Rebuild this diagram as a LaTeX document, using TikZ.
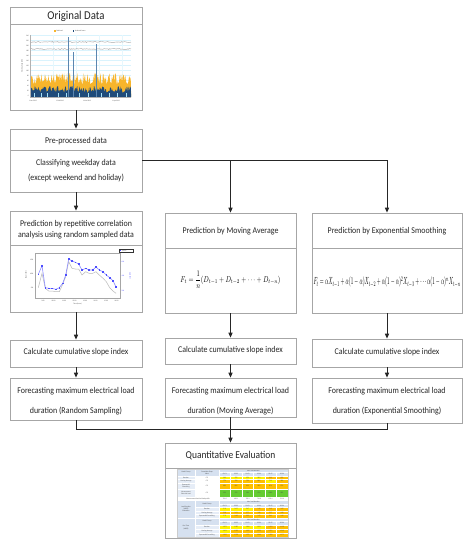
\documentclass[tikz,border=0pt]{standalone}
\usepackage{fontspec}
\setmainfont{Carlito}[FakeStretch=0.9]
\usepackage{graphicx}
\usetikzlibrary{arrows.meta,plotmarks}
\definecolor{boxgray}{HTML}{A6A6A6}
\definecolor{ylw}{HTML}{F7B52C}
\definecolor{navyb}{HTML}{1F4B7A}
\definecolor{spk}{HTML}{5B86B0}
\definecolor{tY}{HTML}{FFF200}
\definecolor{tO}{HTML}{FFC000}
\definecolor{tG}{HTML}{66CC33}
\definecolor{tW}{HTML}{FFFFFF}
\definecolor{tH}{HTML}{D6E1F0}
\definecolor{tL}{HTML}{E6EDF7}
\newcommand\tcell[6]{\filldraw[fill=#5,draw=white,line width=0.25pt] (#1,#2) rectangle (#3,#4); \node[tny,align=center] at ({(#1+#3)/2},{(#2+#4)/2}) {#6};}
\newcommand\tblrow[3]{\foreach \c/\t [count=\k from 0] in {#3} {\pgfmathsetmacro\xa{219+\k*11.45}\filldraw[fill=t\c,draw=white,line width=0.25pt] (\xa,#1) rectangle ({\xa+11.45},#2); \node[tny] at ({\xa+5.725},{(#1+#2)/2}) {\t};}}
\newcommand\tblhead[2]{\foreach \lab [count=\k from 0] in {09-01,09-02,09-03,09-04,09-05,09-06} {\pgfmathsetmacro\xa{219+\k*11.45}\filldraw[fill=tH,draw=white,line width=0.25pt] (\xa,#1) rectangle ({\xa+11.45},#2); \node[tny] at ({\xa+5.725},{(#1+#2)/2}) {\lab};}}
\begin{document}
\begin{tikzpicture}[x=1pt,y=-1pt,
  box/.style={draw=boxgray, line width=0.8pt, fill=white, inner sep=0pt},
  txt/.style={font=\fontsize{8.8}{11}\selectfont, inner sep=0pt, align=center, text=black!85},
  tny/.style={font=\fontsize{1.8}{2.1}\selectfont, inner sep=0pt, text=black!70},
  arr/.style={-{Triangle[length=5pt,width=4.2pt]}, line width=0.9pt, draw=black!85},
  conn/.style={line width=0.9pt, draw=black!85},
  divl/.style={draw=boxgray, line width=0.8pt}]
\useasboundingbox (0,0) rectangle (470,550);
\fill[white] (0,0) rectangle (470,550);

% ---------- boxes ----------
\node[box, minimum width=132pt, minimum height=103pt] (orig) at (76,58.5) {};
\node[box, minimum width=132pt, minimum height=63pt] (pre) at (76,160.5) {};
\node[box, minimum width=132pt, minimum height=101pt] (c1) at (76,261.5) {};
\node[box, minimum width=131pt, minimum height=100pt] (c2) at (230.5,263) {};
\node[box, minimum width=150pt, minimum height=100pt] (c3) at (387,263) {};
\node[box, minimum width=132pt, minimum height=27pt] (k1) at (76,353.5) {};
\node[box, minimum width=131pt, minimum height=26pt] (k2) at (230.5,351) {};
\node[box, minimum width=150pt, minimum height=28pt] (k3) at (387,353) {};
\node[box, minimum width=132pt, minimum height=42pt] (f1) at (76,399) {};
\node[box, minimum width=131pt, minimum height=39pt] (f2) at (230.5,397.5) {};
\node[box, minimum width=150pt, minimum height=45pt] (f3) at (387,400.5) {};
\node[box, minimum width=131pt, minimum height=95pt] (q) at (230.5,490.5) {};

% dividers
\draw[divl] (10,24) -- (142,24);
\draw[divl] (10,150) -- (142,150);
\draw[divl] (10,245) -- (142,245);
\draw[divl] (165,248) -- (296,248);
\draw[divl] (312,248) -- (462,248);
\draw[divl] (165,468) -- (296,468);

% ---------- texts ----------
\node[txt, font=\fontsize{12}{14}\selectfont] (origt) at (76,16) {Original Data};
\node[txt] (pret) at (76,141) {Pre-processed data};
\node[txt, font=\fontsize{8.8}{15}\selectfont] (pre2) at (76,170.5) {Classifying weekday data\\(except weekend and holiday)};
\node[txt] (c1t) at (76,229.5) {Prediction by repetitive correlation\\analysis using random sampled data};
\node[txt] (c2t) at (230.5,231) {Prediction by Moving Average};
\node[txt] (c3t) at (387,231) {Prediction by Exponential Smoothing};
\node[inner sep=0pt] (c2f) at (230.5,280) {\resizebox*{100pt}{17pt}{$\displaystyle F_t=\frac{1}{n}(D_{t-1}+D_{t-2}+\cdots+D_{t-n})$}};
\node[inner sep=0pt] (c3f) at (387,282) {\resizebox*{147pt}{11pt}{$F_t=\alpha X_{t-1}+\alpha(1-\alpha)X_{t-2}+\alpha(1-\alpha)^2X_{t-3}+\cdots\alpha(1-\alpha)^nX_{t-n}$}};
\node[txt] (k1t) at (76,352) {Calculate cumulative slope index};
\node[txt] (k2t) at (230.5,350) {Calculate cumulative slope index};
\node[txt] (k3t) at (387,352) {Calculate cumulative slope index};
\node[txt, font=\fontsize{8.8}{20}\selectfont] (f1t) at (76,401) {Forecasting maximum electrical load\\duration (Random Sampling)};
\node[txt, font=\fontsize{8.8}{20}\selectfont] (f2t) at (230.5,401) {Forecasting maximum electrical load\\duration (Moving Average)};
\node[txt, font=\fontsize{8.8}{20}\selectfont] (f3t) at (387,401) {Forecasting maximum electrical load\\duration (Exponential Smoothing)};
\node[txt, font=\fontsize{10.5}{12}\selectfont] (qt) at (230.5,456) {Quantitative Evaluation};

% ---------- connectors ----------
\draw[arr] (orig) -- (pre);
\draw[arr] (pre) -- (c1);
\coordinate (j1) at (c2.north |- pre.east);
\draw[arr] (pre.east) -| (c3.north);
\draw[arr] (j1) -- (c2.north);
\draw[arr] (c1) -- (k1);
\draw[arr] (c2) -- (k2);
\draw[arr] (c3) -- (k3);
\draw[arr] (k1) -- (f1);
\draw[arr] (k2) -- (f2);
\draw[arr] (k3) -- (f3);
\coordinate (m) at (230.5,429);
\draw[conn] (f1.south) |- (m);
\draw[conn] (f3.south) |- (m);
\draw[arr] (f2.south) -- (q.north);

% ---------- original data chart ----------
\pgfmathsetseed{11}
\foreach \yy in {35,40,...,95} \draw[cyan!15, line width=0.3pt] (30,\yy) -- (131,\yy);
\foreach \xx in {30,53,76,99,122} \draw[cyan!10, line width=0.3pt] (\xx,35) -- (\xx,97);
\fill[ylw] (30,97) -- plot[domain=30:131, samples=170] (\x,{79+6*rand}) -- (131,97) -- cycle;
\fill[navyb] (30,97) -- plot[domain=30:131, samples=170] (\x,{89.5+3.5*rand}) -- (131,97) -- cycle;
\foreach \xx in {34,41,47.5,58,66,79,88,101,109,117,126} \draw[cyan!35, line width=0.3pt] (\xx,93) -- (\xx,97);
\draw[gray!70, line width=0.45pt] plot[domain=30:131, samples=110] (\x,{42+0.5*rand});
\draw[gray!70, line width=0.45pt] plot[domain=30:131, samples=110] (\x,{49+0.5*rand});
\draw[spk, line width=0.7pt] (68,37) -- (68,97);
\draw[spk, line width=0.7pt] (73,52) -- (73,97);
\draw[spk, line width=0.7pt] (96,44) -- (96,97);
\draw[gray!60, line width=0.3pt] (30,35) -- (30,97) -- (131,97);
\foreach \yy/\v [count=\i] in {36/240,41/220,46/200,51/180,56/160,61/140,66/120,71/100,76/80,81/60,86/40,91/20,96/0}
  \node[tny, anchor=east] (oy\i) at (29,\yy) {\v};
\node[tny, rotate=90] (oyt) at (22,66) {Electrical load (kW)};
\foreach \xx/\v [count=\i] in {33/1-Jan-2013,60/1-Feb-2013,87/1-Mar-2013,116/1-Apr-2013}
  \node[tny] (ox\i) at (\xx,101) {\v};
\fill[ylw] (54,30.2) rectangle (55.8,32);
\node[tny, anchor=west] (ol1) at (56.3,31.1) {Peak load};
\fill[navyb] (72.5,30.2) rectangle (74.3,32);
\node[tny, anchor=west] (ol2) at (74.8,31.1) {Academic hours};

% ---------- correlation chart ----------
\draw[gray!55, line width=0.5pt] plot coordinates {(38.3,287.7) (42,273.3) (45.3,288.3) (48.7,291) (52,291) (55.7,291.7) (59.3,291.7) (62.7,284.3) (65.7,276.7) (68.7,261.7) (72,268.3) (75.3,269) (78.7,269) (82,275) (85.7,271.7) (89,273.3) (92.7,273.3) (96,271.7) (99.3,275) (103,278.3) (106.3,281.7) (109.7,287.7) (113,291) (116,293.3)};
\draw[blue!45, line width=0.6pt] plot[mark=square*, mark size=0.45pt, mark options={fill=blue!70, draw=blue!70}] coordinates {(38.3,274.3) (42,265.7) (45.3,287.7) (48.7,288.3) (52,288.3) (55.7,289.3) (59.3,287.7) (62.7,283.3) (65.7,275) (68.7,259) (72,261) (75.3,262.3) (78.7,264) (82,270) (85.7,268.3) (89,270) (92.7,270) (96,267) (99.3,270) (103,271.7) (106.3,275) (109.7,277.7) (113,280.7) (116,287)};
\draw[gray!70, line width=0.25pt] (35,253) rectangle (120,298);
\foreach \yy/\v [count=\i] in {260/1500,274/1000,288/500}
  \node[tny, anchor=east] (cy\i) at (33.5,\yy) {\v};
\node[tny, rotate=90] (cyt) at (26,275) {Power (kW)};
\foreach \yy/\v [count=\i] in {262/600,276/400,291/200}
  \node[tny, anchor=west, text=blue!70] (cr\i) at (121.5,\yy) {\v};
\node[tny, rotate=90, text=blue!70] (crt) at (130,276) {Load (kW)};
\foreach \xx/\v [count=\i] in {43/9:00,53.5/10:00,64/11:00,74.5/12:00,85/13:00,95.5/14:00,106/15:00,116.5/16:00}
  \node[tny] (cx\i) at (\xx,300.5) {\v};
\node[tny] (cxt) at (77.5,303.5) {Time (hours)};
\draw[black!80, fill=white, line width=0.25pt] (119,249) rectangle (133,252.6);
\fill[blue!75] (120,250.4) rectangle (121,251.3);
\node[tny, anchor=west] (cleg) at (122,250.8) {Load 1};

% ---------- table ----------
% section 1
\tcell{177}{469}{195}{476}{tH}{Model Group}
\tcell{195}{469}{219}{476}{tH}{Cumulative Slope\\Index}
\tcell{219}{469}{287.7}{472.5}{tH}{Max. load duration}
\tblhead{472.5}{476}
\tcell{177}{476}{195}{479.5}{tL}{Random}
\tcell{195}{476}{219}{479.5}{tW}{CSI}
\tblrow{476}{479.5}{Y/96\%,Y/97\%,Y/95\%,Y/98\%,O/94\%,O/95\%}
\tcell{177}{479.5}{195}{483}{tL}{Moving Average}
\tcell{195}{479.5}{219}{483}{tW}{CSI}
\tblrow{479.5}{483}{O/77\%,O/79\%,O/75\%,O/80\%,Y/74\%,O/78\%}
\tcell{177}{483}{195}{489.5}{tL}{Exponential\\Smoothing}
\tcell{195}{483}{219}{489.5}{tW}{CSI}
\tblrow{483}{489.5}{O/88\%,O/86\%,O/89\%,O/90\%,O/85\%,O/87\%}
\tcell{177}{489.5}{195}{497}{tL}{Measurement\\Electrical Load}
\tcell{195}{489.5}{219}{497}{tW}{CSI}
\tblrow{489.5}{497}{G/99\%,G/97\%,G/98\%,G/97\%,G/100\%,G/98\%}
\tcell{177}{497}{219}{500.5}{tW}{Measurement electrical load profile}
\tblrow{497}{500.5}{W/702.5,W/698.1,W/705.3,W/701.8,W/699.4,W/703.0}
% section 2
\tcell{177}{500.5}{195}{518}{tH}{Load Duration\\(MAPE)\\Evaluation}
\tcell{195}{500.5}{219}{507.5}{tH}{Model Group}
\tcell{219}{500.5}{287.7}{504}{tH}{Max. load duration}
\tblhead{504}{507.5}
\tcell{195}{507.5}{219}{511}{tL}{Random}
\tblrow{507.5}{511}{Y/2.31,Y/2.05,Y/2.47,O/3.12,O/3.40,O/3.05}
\tcell{195}{511}{219}{514.5}{tL}{Moving Average}
\tblrow{511}{514.5}{O/3.84,O/3.91,O/3.77,O/3.86,O/3.95,O/3.80}
\tcell{195}{514.5}{219}{518}{tL}{Exponential Smoothing}
\tblrow{514.5}{518}{Y/2.76,O/3.18,O/3.22,O/3.55,O/3.61,O/3.49}
% section 3
\tcell{177}{518}{195}{537}{tH}{Run Time\\(MAPE)}
\tcell{195}{518}{219}{525}{tH}{Model Group}
\tcell{219}{518}{287.7}{521.5}{tH}{Max. load duration}
\tblhead{521.5}{525}
\tcell{195}{525}{219}{529}{tL}{Random}
\tblrow{525}{529}{Y/1.072,Y/1.085,Y/1.064,Y/1.091,O/1.210,O/1.198}
\tcell{195}{529}{219}{533}{tL}{Moving Average}
\tblrow{529}{533}{Y/1.104,O/1.233,O/1.247,O/1.229,O/1.251,O/1.240}
\tcell{195}{533}{219}{537}{tL}{Exponential Smoothing}
\tblrow{533}{537}{O/1.262,O/1.258,O/1.271,O/1.266,O/1.280,O/1.275}
\draw[gray!40, line width=0.3pt] (177,469) rectangle (287.7,537);
\end{tikzpicture}
\end{document}
